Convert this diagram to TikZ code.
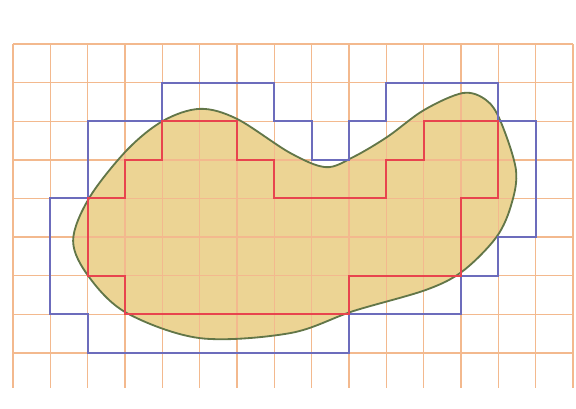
\documentclass[tikz,border=0pt]{standalone}
\usepackage{tikz}
\definecolor{cellorange}{RGB}{243,185,142}
\definecolor{blobtan}{RGB}{236,212,148}
\definecolor{blobedge}{RGB}{98,118,72}
\definecolor{outerblue}{RGB}{108,108,188}
\definecolor{innerred}{RGB}{232,68,78}

\begin{document}
\begin{tikzpicture}[x=0.9333cm,y=-0.965cm,
  cellline/.style={cellorange, line width=1pt},
  outerpoly/.style={outerblue, line width=1.4pt},
  innerpoly/.style={innerred, line width=1.4pt},
  blobline/.style={blobedge, line width=1.3pt}]
  \useasboundingbox (-0.348,-1.14) rectangle (15.08,9.43);
  % the region
  \fill[blobtan] plot[smooth cycle, tension=0.55] coordinates {
    (5.01,1.68) (6.00,1.94) (7.42,2.82) (8.38,3.19) (9.11,2.93)
    (10.02,2.41) (11.01,1.71) (12.05,1.27) (12.67,1.45) (13.05,1.98)
    (13.47,3.25) (13.35,4.15) (12.95,5.00) (12.05,5.88) (11.06,6.37)
    (9.11,6.92) (7.42,7.49) (5.01,7.62) (3.05,6.97) (2.04,6.04)
    (1.61,5.10) (2.04,3.99) (3.05,2.75) (4.02,1.99)};
  % grid of cells
  \foreach \i in {0,...,15}
    \draw[cellline] (\i,0) -- (\i,8.9);
  \foreach \j in {0,...,8}
    \draw[cellline] (0,\j) -- (15,\j);
  \draw[blobline] plot[smooth cycle, tension=0.55] coordinates {
    (5.01,1.68) (6.00,1.94) (7.42,2.82) (8.38,3.19) (9.11,2.93)
    (10.02,2.41) (11.01,1.71) (12.05,1.27) (12.67,1.45) (13.05,1.98)
    (13.47,3.25) (13.35,4.15) (12.95,5.00) (12.05,5.88) (11.06,6.37)
    (9.11,6.92) (7.42,7.49) (5.01,7.62) (3.05,6.97) (2.04,6.04)
    (1.61,5.10) (2.04,3.99) (3.05,2.75) (4.02,1.99)};
  % outer cells
  \draw[outerpoly] (4,1) -- (7,1) -- (7,2) -- (8,2) -- (8,3) -- (9,3)
    -- (9,2) -- (10,2) -- (10,1) -- (13,1) -- (13,2) -- (14,2) -- (14,5)
    -- (13,5) -- (13,6) -- (12,6) -- (12,7) -- (9,7) -- (9,8) -- (2,8)
    -- (2,7) -- (1,7) -- (1,4) -- (2,4) -- (2,2) -- (4,2) -- cycle;
  % inner cells
  \draw[innerpoly] (4,2) -- (6,2) -- (6,3) -- (7,3) -- (7,4) -- (10,4)
    -- (10,3) -- (11,3) -- (11,2) -- (13,2) -- (13,4) -- (12,4) -- (12,6)
    -- (9,6) -- (9,7) -- (3,7) -- (3,6) -- (2,6) -- (2,4) -- (3,4)
    -- (3,3) -- (4,3) -- cycle;
\end{tikzpicture}
\end{document}
